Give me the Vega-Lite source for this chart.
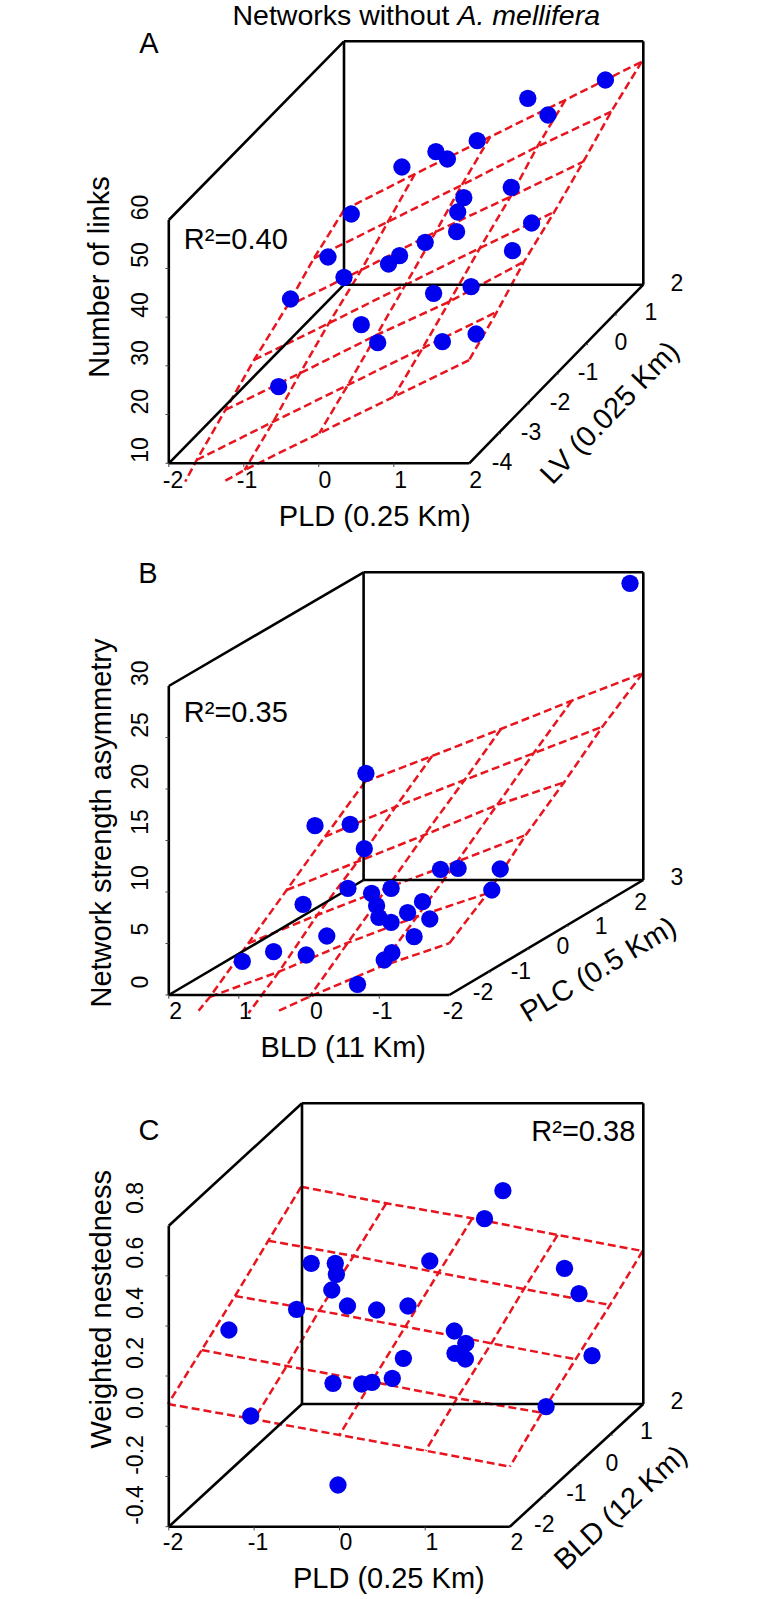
{
"$schema":"https://vega.github.io/schema/vega-lite/v6.json",
"width":777,"height":1599,"padding":0,
"autosize":{"type":"fit","contains":"padding"},
"background":"white",
"config":{"view":{"stroke":null},"text":{"font":"Liberation Sans","color":"#000000"}},
"datasets":{
"frame":[
{"h":168.8,"v":220,"h2":344,"v2":41.3},{"h":344,"v":41.3,"h2":643.3,"v2":41.3},{"h":643.3,"v":41.3,"h2":643.3,"v2":284.7},{"h":643.3,"v":284.7,"h2":344,"v2":284.7},{"h":344,"v":41.3,"h2":344,"v2":284.7},{"h":344,"v":284.7,"h2":168.8,"v2":463.3},{"h":168.8,"v":220,"h2":168.8,"v2":463.3},{"h":168.8,"v":463.3,"h2":469.2,"v2":463.3},{"h":469.2,"v":463.3,"h2":643.3,"v2":284.7},
{"h":168.8,"v":686,"h2":363.6,"v2":572.3},{"h":363.6,"v":572.3,"h2":643.3,"v2":572.3},{"h":643.3,"v":572.3,"h2":643.3,"v2":880},{"h":643.3,"v":880,"h2":363.6,"v2":880},{"h":363.6,"v":572.3,"h2":363.6,"v2":880},{"h":363.6,"v":880,"h2":168.8,"v2":995},{"h":168.8,"v":686,"h2":168.8,"v2":995},{"h":168.8,"v":995,"h2":449.3,"v2":995},{"h":449.3,"v":995,"h2":643.3,"v2":880},
{"h":168.8,"v":1225.7,"h2":302,"v2":1103.3},{"h":302,"v":1103.3,"h2":643.3,"v2":1103.3},{"h":643.3,"v":1103.3,"h2":643.3,"v2":1404},{"h":643.3,"v":1404,"h2":302,"v2":1404},{"h":302,"v":1103.3,"h2":302,"v2":1404},{"h":302,"v":1404,"h2":168.8,"v2":1526.7},{"h":168.8,"v":1225.7,"h2":168.8,"v2":1526.7},{"h":168.8,"v":1526.7,"h2":509.8,"v2":1526.7},{"h":509.8,"v":1526.7,"h2":643.3,"v2":1404}
],
"ticks":[
{"h":165.5,"h2":168.8,"v":268.5,"v2":268.5},{"h":165.5,"h2":168.8,"v":317.2,"v2":317.2},{"h":165.5,"h2":168.8,"v":365.8,"v2":365.8},{"h":165.5,"h2":168.8,"v":414.5,"v2":414.5},{"h":165.5,"h2":168.8,"v":463.3,"v2":463.3},
{"h":168.8,"h2":168.8,"v":463.3,"v2":467},{"h":243.8,"h2":243.8,"v":463.3,"v2":467},{"h":318.8,"h2":318.8,"v":463.3,"v2":467},{"h":393.8,"h2":393.8,"v":463.3,"v2":467},
{"h":498,"h2":501,"v":433.6,"v2":433.6},{"h":527,"h2":530,"v":404,"v2":404},{"h":556,"h2":559,"v":374,"v2":374},{"h":585,"h2":588,"v":344.6,"v2":344.6},{"h":614,"h2":617,"v":315,"v2":315},
{"h":165.5,"h2":168.8,"v":737.5,"v2":737.5},{"h":165.5,"h2":168.8,"v":789,"v2":789},{"h":165.5,"h2":168.8,"v":840.5,"v2":840.5},{"h":165.5,"h2":168.8,"v":892,"v2":892},{"h":165.5,"h2":168.8,"v":943.5,"v2":943.5},{"h":165.5,"h2":168.8,"v":995,"v2":995},
{"h":168.8,"h2":168.8,"v":995,"v2":998.7},{"h":238.8,"h2":238.8,"v":995,"v2":998.7},{"h":308.9,"h2":308.9,"v":995,"v2":998.7},{"h":379.3,"h2":379.3,"v":995,"v2":998.7},
{"h":488,"h2":491,"v":972,"v2":972},{"h":527,"h2":530,"v":949,"v2":949},{"h":566,"h2":569,"v":926,"v2":926},{"h":604.5,"h2":607.5,"v":903,"v2":903},
{"h":165.5,"h2":168.8,"v":1275.8,"v2":1275.8},{"h":165.5,"h2":168.8,"v":1326,"v2":1326},{"h":165.5,"h2":168.8,"v":1376,"v2":1376},{"h":165.5,"h2":168.8,"v":1426.3,"v2":1426.3},{"h":165.5,"h2":168.8,"v":1476.5,"v2":1476.5},{"h":165.5,"h2":168.8,"v":1526.7,"v2":1526.7},
{"h":168.8,"h2":168.8,"v":1526.7,"v2":1530.4},{"h":254.1,"h2":254.1,"v":1526.7,"v2":1530.4},{"h":339.5,"h2":339.5,"v":1526.7,"v2":1530.4},{"h":425.2,"h2":425.2,"v":1526.7,"v2":1530.4},
{"h":543,"h2":546,"v":1496,"v2":1496},{"h":576.5,"h2":579.5,"v":1465,"v2":1465},{"h":610,"h2":613,"v":1435,"v2":1435}
],
"surface":[
{"l":"Ar1","k":1,"h":344,"v":210},{"l":"Ar1","k":2,"h":414.9,"v":174},{"l":"Ar1","k":3,"h":490.3,"v":136.7},{"l":"Ar1","k":4,"h":565.3,"v":100},{"l":"Ar1","k":5,"h":641.8,"v":61.7},
{"l":"Ar2","k":1,"h":313.9,"v":258.3},{"l":"Ar2","k":2,"h":388,"v":221.7},{"l":"Ar2","k":3,"h":461.9,"v":185},{"l":"Ar2","k":4,"h":537.3,"v":146.7},{"l":"Ar2","k":5,"h":611.2,"v":111.7},
{"l":"Ar3","k":1,"h":286.7,"v":306.7},{"l":"Ar3","k":2,"h":361.3,"v":270},{"l":"Ar3","k":3,"h":435.9,"v":231.7},{"l":"Ar3","k":4,"h":510.5,"v":196.7},{"l":"Ar3","k":5,"h":583.3,"v":161.7},
{"l":"Ar4","k":1,"h":254.1,"v":360},{"l":"Ar4","k":2,"h":328.8,"v":323.3},{"l":"Ar4","k":3,"h":405.3,"v":285},{"l":"Ar4","k":4,"h":480,"v":248},{"l":"Ar4","k":5,"h":554.5,"v":211.7},
{"l":"Ar5","k":1,"h":225.4,"v":410},{"l":"Ar5","k":2,"h":300,"v":373.3},{"l":"Ar5","k":3,"h":376.6,"v":335},{"l":"Ar5","k":4,"h":449.3,"v":301.7},{"l":"Ar5","k":5,"h":524,"v":261.7},
{"l":"Ar6","k":1,"h":196.7,"v":460},{"l":"Ar6","k":2,"h":273.3,"v":421.7},{"l":"Ar6","k":3,"h":347.9,"v":385},{"l":"Ar6","k":4,"h":422.5,"v":348.3},{"l":"Ar6","k":5,"h":497,"v":311.7},
{"l":"Ar7","k":1,"h":225.4,"v":480.7},{"l":"Ar7","k":2,"h":244.6,"v":470},{"l":"Ar7","k":3,"h":319.2,"v":433.3},{"l":"Ar7","k":4,"h":393.8,"v":396.7},{"l":"Ar7","k":5,"h":469.2,"v":360},
{"l":"Ac1","k":1,"h":344,"v":210},{"l":"Ac1","k":2,"h":313.9,"v":258.3},{"l":"Ac1","k":3,"h":286.7,"v":306.7},{"l":"Ac1","k":4,"h":254.1,"v":360},{"l":"Ac1","k":5,"h":225.4,"v":410},{"l":"Ac1","k":6,"h":196.7,"v":460},{"l":"Ac1","k":7,"h":185.2,"v":481.7},
{"l":"Ac2","k":1,"h":414.9,"v":174},{"l":"Ac2","k":2,"h":388,"v":221.7},{"l":"Ac2","k":3,"h":361.3,"v":270},{"l":"Ac2","k":4,"h":328.8,"v":323.3},{"l":"Ac2","k":5,"h":300,"v":373.3},{"l":"Ac2","k":6,"h":273.3,"v":421.7},{"l":"Ac2","k":7,"h":244.6,"v":470},
{"l":"Ac3","k":1,"h":490.3,"v":136.7},{"l":"Ac3","k":2,"h":461.9,"v":185},{"l":"Ac3","k":3,"h":435.9,"v":231.7},{"l":"Ac3","k":4,"h":405.3,"v":285},{"l":"Ac3","k":5,"h":376.6,"v":335},{"l":"Ac3","k":6,"h":347.9,"v":385},{"l":"Ac3","k":7,"h":319.2,"v":433.3},
{"l":"Ac4","k":1,"h":565.3,"v":100},{"l":"Ac4","k":2,"h":537.3,"v":146.7},{"l":"Ac4","k":3,"h":510.5,"v":196.7},{"l":"Ac4","k":4,"h":480,"v":248},{"l":"Ac4","k":5,"h":449.3,"v":301.7},{"l":"Ac4","k":6,"h":422.5,"v":348.3},{"l":"Ac4","k":7,"h":393.8,"v":396.7},
{"l":"Ac5","k":1,"h":641.8,"v":61.7},{"l":"Ac5","k":2,"h":611.2,"v":111.7},{"l":"Ac5","k":3,"h":583.3,"v":161.7},{"l":"Ac5","k":4,"h":554.5,"v":211.7},{"l":"Ac5","k":5,"h":524,"v":261.7},{"l":"Ac5","k":6,"h":497,"v":311.7},{"l":"Ac5","k":7,"h":469.2,"v":360},
{"l":"Br1","k":1,"h":365.1,"v":781.7},{"l":"Br1","k":2,"h":432.1,"v":756},{"l":"Br1","k":3,"h":501,"v":729},{"l":"Br1","k":4,"h":571.8,"v":700.7},{"l":"Br1","k":5,"h":642.6,"v":673.3},
{"l":"Br2","k":1,"h":324.9,"v":836.7},{"l":"Br2","k":2,"h":395.7,"v":806.7},{"l":"Br2","k":3,"h":464.6,"v":780},{"l":"Br2","k":4,"h":533.5,"v":753.3},{"l":"Br2","k":5,"h":602.4,"v":726.7},
{"l":"Br3","k":1,"h":286.7,"v":890},{"l":"Br3","k":2,"h":357.5,"v":861.7},{"l":"Br3","k":3,"h":424.4,"v":835},{"l":"Br3","k":4,"h":497.1,"v":805},{"l":"Br3","k":5,"h":564.1,"v":782.3},
{"l":"Br4","k":1,"h":248.4,"v":943.3},{"l":"Br4","k":2,"h":317.3,"v":915},{"l":"Br4","k":3,"h":387,"v":888},{"l":"Br4","k":4,"h":457,"v":861.7},{"l":"Br4","k":5,"h":525.8,"v":835},
{"l":"Br5","k":1,"h":210.1,"v":996.7},{"l":"Br5","k":2,"h":279,"v":971.7},{"l":"Br5","k":3,"h":347.9,"v":942.7},{"l":"Br5","k":4,"h":416.8,"v":916.7},{"l":"Br5","k":5,"h":487.6,"v":893.3},
{"l":"Br6","k":1,"h":279,"v":1010.7},{"l":"Br6","k":2,"h":309.6,"v":996.7},{"l":"Br6","k":3,"h":380.4,"v":966.7},{"l":"Br6","k":4,"h":449.3,"v":943.3},
{"l":"Bc1","k":1,"h":365.1,"v":781.7},{"l":"Bc1","k":2,"h":324.9,"v":836.7},{"l":"Bc1","k":3,"h":286.7,"v":890},{"l":"Bc1","k":4,"h":248.4,"v":943.3},{"l":"Bc1","k":5,"h":210.1,"v":996.7},{"l":"Bc1","k":6,"h":198.6,"v":1010.7},
{"l":"Bc2","k":1,"h":432.1,"v":756},{"l":"Bc2","k":2,"h":395.7,"v":806.7},{"l":"Bc2","k":3,"h":357.5,"v":861.7},{"l":"Bc2","k":4,"h":317.3,"v":915},{"l":"Bc2","k":5,"h":279,"v":971.7},{"l":"Bc2","k":6,"h":248.4,"v":1013.3},
{"l":"Bc3","k":1,"h":501,"v":729},{"l":"Bc3","k":2,"h":464.6,"v":780},{"l":"Bc3","k":3,"h":424.4,"v":835},{"l":"Bc3","k":4,"h":387,"v":888},{"l":"Bc3","k":5,"h":347.9,"v":942.7},{"l":"Bc3","k":6,"h":309.6,"v":996.7},
{"l":"Bc4","k":1,"h":571.8,"v":700.7},{"l":"Bc4","k":2,"h":533.5,"v":753.3},{"l":"Bc4","k":3,"h":497.1,"v":805},{"l":"Bc4","k":4,"h":457,"v":861.7},{"l":"Bc4","k":5,"h":416.8,"v":916.7},{"l":"Bc4","k":6,"h":380.4,"v":966.7},
{"l":"Bc5","k":1,"h":642.6,"v":673.3},{"l":"Bc5","k":2,"h":602.4,"v":726.7},{"l":"Bc5","k":3,"h":564.1,"v":782.3},{"l":"Bc5","k":4,"h":525.8,"v":835},{"l":"Bc5","k":5,"h":487.6,"v":893.3},{"l":"Bc5","k":6,"h":449.3,"v":943.3},
{"l":"Cr1","k":1,"h":301.2,"v":1186.7},{"l":"Cr1","k":2,"h":386.2,"v":1203.3},{"l":"Cr1","k":3,"h":472.3,"v":1218.3},{"l":"Cr1","k":4,"h":557.6,"v":1235},{"l":"Cr1","k":5,"h":642.6,"v":1251},
{"l":"Cr2","k":1,"h":268.3,"v":1240.7},{"l":"Cr2","k":2,"h":353.6,"v":1256},{"l":"Cr2","k":3,"h":438.6,"v":1272.7},{"l":"Cr2","k":4,"h":523.9,"v":1289},{"l":"Cr2","k":5,"h":610,"v":1305},
{"l":"Cr3","k":1,"h":235,"v":1296},{"l":"Cr3","k":2,"h":319.2,"v":1310.7},{"l":"Cr3","k":3,"h":405.3,"v":1326.7},{"l":"Cr3","k":4,"h":491.4,"v":1343.3},{"l":"Cr3","k":5,"h":575.6,"v":1359.3},
{"l":"Cr4","k":1,"h":201.7,"v":1350},{"l":"Cr4","k":2,"h":286.7,"v":1366},{"l":"Cr4","k":3,"h":371.6,"v":1381.7},{"l":"Cr4","k":4,"h":457,"v":1398.3},{"l":"Cr4","k":5,"h":541.9,"v":1412.7},
{"l":"Cr5","k":1,"h":168,"v":1404},{"l":"Cr5","k":2,"h":254.1,"v":1419.3},{"l":"Cr5","k":3,"h":339.5,"v":1435},{"l":"Cr5","k":4,"h":425.6,"v":1450.7},{"l":"Cr5","k":5,"h":509.8,"v":1466.7},
{"l":"Cc1","k":1,"h":301.2,"v":1186.7},{"l":"Cc1","k":2,"h":268.3,"v":1240.7},{"l":"Cc1","k":3,"h":235,"v":1296},{"l":"Cc1","k":4,"h":201.7,"v":1350},{"l":"Cc1","k":5,"h":168,"v":1404},
{"l":"Cc2","k":1,"h":386.2,"v":1203.3},{"l":"Cc2","k":2,"h":353.6,"v":1256},{"l":"Cc2","k":3,"h":319.2,"v":1310.7},{"l":"Cc2","k":4,"h":286.7,"v":1366},{"l":"Cc2","k":5,"h":254.1,"v":1419.3},
{"l":"Cc3","k":1,"h":472.3,"v":1218.3},{"l":"Cc3","k":2,"h":438.6,"v":1272.7},{"l":"Cc3","k":3,"h":405.3,"v":1326.7},{"l":"Cc3","k":4,"h":371.6,"v":1381.7},{"l":"Cc3","k":5,"h":339.5,"v":1435},
{"l":"Cc4","k":1,"h":557.6,"v":1235},{"l":"Cc4","k":2,"h":523.9,"v":1289},{"l":"Cc4","k":3,"h":491.4,"v":1343.3},{"l":"Cc4","k":4,"h":457,"v":1398.3},{"l":"Cc4","k":5,"h":425.6,"v":1450.7},
{"l":"Cc5","k":1,"h":642.6,"v":1251},{"l":"Cc5","k":2,"h":610,"v":1305},{"l":"Cc5","k":3,"h":575.6,"v":1359.3},{"l":"Cc5","k":4,"h":541.9,"v":1412.7},{"l":"Cc5","k":5,"h":509.8,"v":1466.7}
],
"networks":[
{"p":"A","h":605.4,"v":80},{"p":"A","h":527.8,"v":98.3},{"p":"A","h":548,"v":115},{"p":"A","h":477.2,"v":140.7},{"p":"A","h":435.9,"v":151.7},{"p":"A","h":447.4,"v":159},{"p":"A","h":401.9,"v":167},{"p":"A","h":511.3,"v":187.3},{"p":"A","h":463.8,"v":197.7},{"p":"A","h":457.7,"v":212},{"p":"A","h":351.3,"v":214},{"p":"A","h":531.6,"v":223},{"p":"A","h":456.6,"v":231.7},{"p":"A","h":425.2,"v":242.3},{"p":"A","h":399.6,"v":255.7},{"p":"A","h":388.5,"v":264},{"p":"A","h":328,"v":257},{"p":"A","h":512.5,"v":250.7},{"p":"A","h":344,"v":277.3},{"p":"A","h":290.5,"v":299},{"p":"A","h":433.6,"v":293.3},{"p":"A","h":471.1,"v":286.7},{"p":"A","h":361.3,"v":324.7},{"p":"A","h":377.7,"v":342.7},{"p":"A","h":442.4,"v":341.7},{"p":"A","h":476.1,"v":334},{"p":"A","h":278.6,"v":386.7},
{"p":"B","h":630,"v":583.3},{"p":"B","h":365.9,"v":773.3},{"p":"B","h":315,"v":825.7},{"p":"B","h":350.2,"v":824.3},{"p":"B","h":364.3,"v":848.7},{"p":"B","h":440.5,"v":869.3},{"p":"B","h":458.1,"v":868.3},{"p":"B","h":500.2,"v":869},{"p":"B","h":491.8,"v":890},{"p":"B","h":347.9,"v":888.3},{"p":"B","h":391.1,"v":888.3},{"p":"B","h":371.6,"v":893.3},{"p":"B","h":303.1,"v":904.3},{"p":"B","h":376.6,"v":905.7},{"p":"B","h":422.5,"v":901.7},{"p":"B","h":407.6,"v":912.7},{"p":"B","h":378.9,"v":917.3},{"p":"B","h":391.1,"v":922.3},{"p":"B","h":429.8,"v":919},{"p":"B","h":414.1,"v":936.7},{"p":"B","h":326.8,"v":936},{"p":"B","h":273.6,"v":951.7},{"p":"B","h":306.2,"v":955},{"p":"B","h":391.9,"v":952.7},{"p":"B","h":384.2,"v":960},{"p":"B","h":242.3,"v":961.3},{"p":"B","h":357.5,"v":984.3},
{"p":"C","h":502.9,"v":1190.7},{"p":"C","h":484.5,"v":1218.7},{"p":"C","h":429.8,"v":1261},{"p":"C","h":311.2,"v":1263.3},{"p":"C","h":335.3,"v":1263.3},{"p":"C","h":336.4,"v":1274.3},{"p":"C","h":564.5,"v":1268.3},{"p":"C","h":579,"v":1293.7},{"p":"C","h":331.8,"v":1290},{"p":"C","h":296.6,"v":1309.3},{"p":"C","h":347.5,"v":1306},{"p":"C","h":376.6,"v":1310},{"p":"C","h":408,"v":1306},{"p":"C","h":228.9,"v":1330},{"p":"C","h":454.3,"v":1331},{"p":"C","h":465.8,"v":1343.3},{"p":"C","h":403.4,"v":1358.3},{"p":"C","h":455,"v":1353.3},{"p":"C","h":465.4,"v":1359},{"p":"C","h":592,"v":1355.7},{"p":"C","h":333,"v":1383.3},{"p":"C","h":361.7,"v":1384},{"p":"C","h":372,"v":1382.3},{"p":"C","h":392.3,"v":1378.3},{"p":"C","h":546.1,"v":1406.7},{"p":"C","h":250.7,"v":1416},{"p":"C","h":338,"v":1485}
],
"tickLabelsH":[
{"t":"-2","h":173,"v":481},{"t":"-1","h":247,"v":481},{"t":"0","h":325,"v":481},{"t":"1","h":400.7,"v":481},{"t":"2","h":475.7,"v":481},
{"t":"-4","h":502,"v":463},{"t":"-3","h":531,"v":432.7},{"t":"-2","h":560,"v":403},{"t":"-1","h":588,"v":372.7},{"t":"0","h":621,"v":343},{"t":"1","h":651,"v":313},{"t":"2","h":677,"v":284},
{"t":"2","h":175.7,"v":1011.7},{"t":"1","h":245.3,"v":1011.7},{"t":"0","h":316.5,"v":1011.7},{"t":"-1","h":382.3,"v":1011.7},{"t":"-2","h":453,"v":1011.7},
{"t":"-2","h":483,"v":993.3},{"t":"-1","h":520.9,"v":971.7},{"t":"0","h":563,"v":947.3},{"t":"1","h":601.2,"v":926.7},{"t":"2","h":640.7,"v":903.3},{"t":"3","h":677,"v":878},
{"t":"-2","h":173,"v":1543},{"t":"-1","h":258,"v":1543},{"t":"0","h":346,"v":1543},{"t":"1","h":432,"v":1543},{"t":"2","h":517,"v":1543},
{"t":"-2","h":544.2,"v":1525},{"t":"-1","h":576.4,"v":1494},{"t":"0","h":612,"v":1464.3},{"t":"1","h":646.4,"v":1431.7},{"t":"2","h":677,"v":1401.7}
],
"tickLabelsV":[
{"t":"10","h":141,"v":450},{"t":"20","h":141,"v":401.7},{"t":"30","h":141,"v":353},{"t":"40","h":141,"v":305},{"t":"50","h":141,"v":255},{"t":"60","h":141,"v":207.5},
{"t":"0","h":141,"v":982},{"t":"5","h":141,"v":929},{"t":"10","h":141,"v":878},{"t":"15","h":141,"v":822},{"t":"20","h":141,"v":776.7},{"t":"25","h":141,"v":725},{"t":"30","h":141,"v":673.3},
{"t":"-0.4","h":135.5,"v":1505},{"t":"-0.2","h":135.5,"v":1455},{"t":"0.0","h":135.5,"v":1403},{"t":"0.2","h":135.5,"v":1353},{"t":"0.4","h":135.5,"v":1303},{"t":"0.6","h":135.5,"v":1252.7},{"t":"0.8","h":135.5,"v":1198}
],
"titlesH":[
{"t":"PLD (0.25 Km)","h":374.7,"v":517},{"t":"BLD (11 Km)","h":343.3,"v":1048},{"t":"PLD (0.25 Km)","h":388.8,"v":1579},
{"t":"A","h":149,"v":43.5},{"t":"B","h":148,"v":574},{"t":"C","h":148.9,"v":1130.5},
{"t":"R²=0.40","h":235.8,"v":240},{"t":"R²=0.35","h":235.8,"v":713},{"t":"R²=0.38","h":583.3,"v":1131.7}
],
"titlesV":[
{"t":"Number of links","h":100,"v":277},{"t":"Network strength asymmetry","h":102,"v":823},{"t":"Weighted nestedness","h":102,"v":1309.3}
],
"depthA":[{"t":"LV (0.025 Km)","h":610,"v":413}],
"depthB":[{"t":"PLC (0.5 Km)","h":598.6,"v":970}],
"depthC":[{"t":"BLD (12 Km)","h":621,"v":1508}],
"titleRoman":[{"t":"Networks without","h":449.5,"v":16}],
"titleItalic":[{"t":"A. mellifera","h":457.5,"v":16}]
},
"encoding":{
"x":{"field":"h","type":"quantitative","axis":null,"scale":{"domain":[0,777],"nice":false,"zero":false}},
"y":{"field":"v","type":"quantitative","axis":null,"scale":{"domain":[1599,0],"nice":false,"zero":false}}
},
"layer":[
{"data":{"name":"surface"},"mark":{"type":"line","color":"#e8141e","strokeWidth":2.5,"strokeDash":[8,4],"clip":false},"encoding":{"detail":{"field":"l"},"order":{"field":"k","type":"quantitative"}}},
{"data":{"name":"frame"},"mark":{"type":"rule","color":"#000000","strokeWidth":2.6},"encoding":{"x2":{"field":"h2"},"y2":{"field":"v2"}}},
{"data":{"name":"ticks"},"mark":{"type":"rule","color":"#444444","strokeWidth":1},"encoding":{"x2":{"field":"h2"},"y2":{"field":"v2"}}},
{"data":{"name":"networks"},"mark":{"type":"point","filled":true,"color":"#0000ee","opacity":1,"size":300}},
{"data":{"name":"tickLabelsH"},"mark":{"type":"text","fontSize":23,"align":"center","baseline":"middle"},"encoding":{"text":{"field":"t"}}},
{"data":{"name":"tickLabelsV"},"mark":{"type":"text","fontSize":23,"align":"center","baseline":"middle","angle":270},"encoding":{"text":{"field":"t"}}},
{"data":{"name":"titlesH"},"mark":{"type":"text","fontSize":29,"align":"center","baseline":"middle"},"encoding":{"text":{"field":"t"}}},
{"data":{"name":"titlesV"},"mark":{"type":"text","fontSize":29,"align":"center","baseline":"middle","angle":270},"encoding":{"text":{"field":"t"}}},
{"data":{"name":"depthA"},"mark":{"type":"text","fontSize":29,"align":"center","baseline":"middle","angle":314},"encoding":{"text":{"field":"t"}}},
{"data":{"name":"depthB"},"mark":{"type":"text","fontSize":29,"align":"center","baseline":"middle","angle":329},"encoding":{"text":{"field":"t"}}},
{"data":{"name":"depthC"},"mark":{"type":"text","fontSize":29,"align":"center","baseline":"middle","angle":317.5},"encoding":{"text":{"field":"t"}}},
{"data":{"name":"titleRoman"},"mark":{"type":"text","fontSize":28.5,"align":"right","baseline":"middle"},"encoding":{"text":{"field":"t"}}},
{"data":{"name":"titleItalic"},"mark":{"type":"text","fontSize":28.5,"fontStyle":"italic","align":"left","baseline":"middle"},"encoding":{"text":{"field":"t"}}}
]
}
